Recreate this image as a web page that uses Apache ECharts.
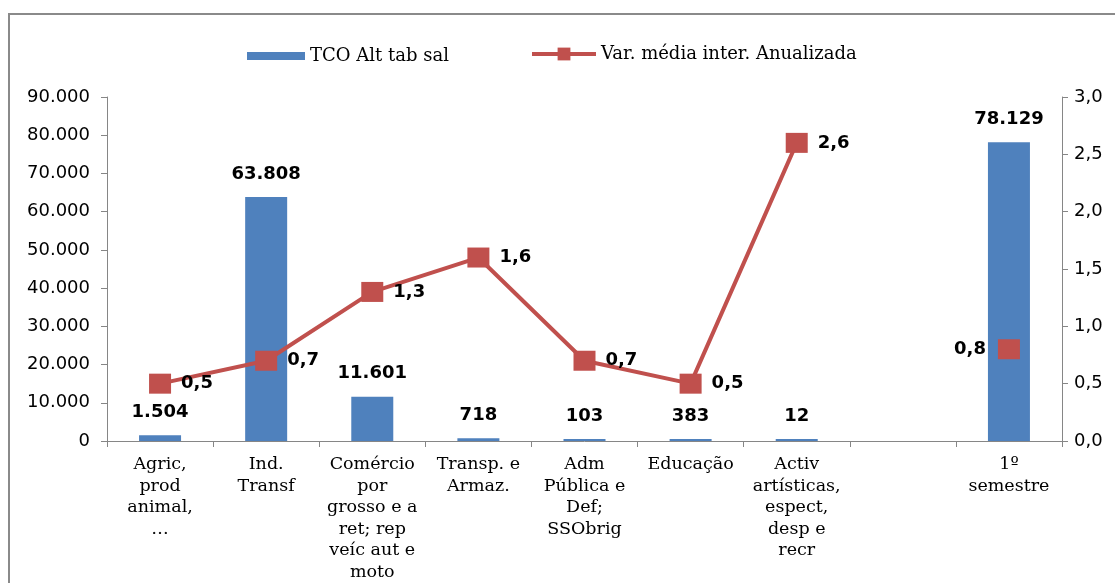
<!DOCTYPE html>
<html>
<head>
<meta charset="utf-8">
<script src="https://cdn.jsdelivr.net/npm/echarts@6/dist/echarts.min.js"></script>
<style>
  html, body { margin: 0; padding: 0; background: #fff; overflow: hidden; }
  #frame {
    position: absolute; left: 8px; top: 13px; width: 1200px; height: 700px;
    border: 2px solid #8a8a8a; box-sizing: border-box;
  }
  #chart { position: absolute; left: 0; top: 0; width: 1115px; height: 583px; }
</style>
</head>
<body>
<div id="frame"></div>
<div id="chart"></div>
<script>
// categorias (a 8ª fica vazia, como no original)
var categories = [
  'Agric,\nprod\nanimal,\n…',
  'Ind.\nTransf',
  'Comércio\npor\ngrosso e a\nret; rep\nveíc aut e\nmoto',
  'Transp. e\nArmaz.',
  'Adm\nPública e\nDef;\nSSObrig',
  'Educação',
  'Activ\nartísticas,\nespect,\ndesp e\nrecr',
  '',
  '1º\nsemestre'
];
var tcoValues = [1504, 63808, 11601, 718, 103, 383, 12, null, 78129];
var varValues = [0.5, 0.7, 1.3, 1.6, 0.7, 0.5, 2.6, null, 0.8];
var barName = 'TCO Alt tab sal';
var lineName = 'Var. média inter. Anualizada';

var blue = '#4F81BD';
var red = '#C0504D';
var axisGray = '#868686';
var serif = '"DejaVu Serif", "Liberation Serif", serif';
var sans = '"DejaVu Sans", Verdana, sans-serif';

function fmtThousands(v) {
  return String(v).replace(/\B(?=(\d{3})+(?!\d))/g, '.');
}
function fmtComma(v) {
  return v.toFixed(1).replace('.', ',');
}

var chart = echarts.init(document.getElementById('chart'), null, { renderer: 'canvas' });

var option = {
  backgroundColor: 'transparent',
  animation: false,
  legend: [
    {
      data: [barName],
      icon: 'rect',
      left: 242, top: 42,
      itemWidth: 58, itemHeight: 8,
      itemGap: 6,
      textStyle: { fontFamily: serif, fontSize: 18, color: '#000' }
    },
    {
      data: [lineName],
      left: 525, top: 40,
      itemWidth: 64, itemHeight: 16,
      lineStyle: { width: 4 },
      textStyle: { fontFamily: serif, fontSize: 18, color: '#000' }
    }
  ],
  grid: { left: 107, right: 53, top: 97, bottom: 138 },
  xAxis: {
    type: 'category',
    data: categories,
    axisLine: { lineStyle: { color: axisGray, width: 1 } },
    axisTick: { show: true, length: 6, lineStyle: { color: axisGray } },
    axisLabel: {
      interval: 0,
      margin: 13,
      fontFamily: serif,
      fontSize: 17.5,
      lineHeight: 21.5,
      color: '#000',
      align: 'center'
    }
  },
  yAxis: [
    {
      type: 'value',
      min: 0, max: 90000, interval: 10000,
      splitLine: { show: false },
      axisLine: { show: true, lineStyle: { color: axisGray } },
      axisTick: { show: true, length: 6, lineStyle: { color: axisGray } },
      axisLabel: {
        fontFamily: sans, fontSize: 18, color: '#000', margin: 17,
        formatter: function (v) { return fmtThousands(v); }
      }
    },
    {
      type: 'value',
      min: 0, max: 3, interval: 0.5,
      splitLine: { show: false },
      axisLine: { show: true, lineStyle: { color: axisGray } },
      axisTick: { show: true, length: 6, lineStyle: { color: axisGray } },
      axisLabel: {
        fontFamily: sans, fontSize: 18, color: '#000', margin: 12,
        formatter: function (v) { return fmtComma(v); }
      }
    }
  ],
  series: [
    {
      name: barName,
      type: 'bar',
      data: tcoValues,
      barWidth: 42,
      barMinHeight: 2,
      itemStyle: { color: blue },
      label: {
        show: true,
        position: 'top',
        distance: 14,
        fontFamily: sans,
        fontWeight: 'bold',
        fontSize: 18,
        color: '#000',
        formatter: function (p) { return fmtThousands(p.value); }
      }
    },
    {
      name: lineName,
      type: 'line',
      yAxisIndex: 1,
      data: varValues.map(function (v, i) {
        if (i === varValues.length - 1) {
          return { value: v, label: { position: 'left', distance: 12 } };
        }
        return v;
      }),
      connectNulls: false,
      symbol: 'rect',
      symbolSize: [22, 20],
      showAllSymbol: true,
      lineStyle: { color: red, width: 4 },
      itemStyle: { color: red },
      label: {
        show: true,
        position: 'right',
        distance: 10,
        fontFamily: sans,
        fontWeight: 'bold',
        fontSize: 18,
        color: '#000',
        formatter: function (p) { return fmtComma(p.value); }
      }
    }
  ]
};

chart.setOption(option);
</script>
</body>
</html>
